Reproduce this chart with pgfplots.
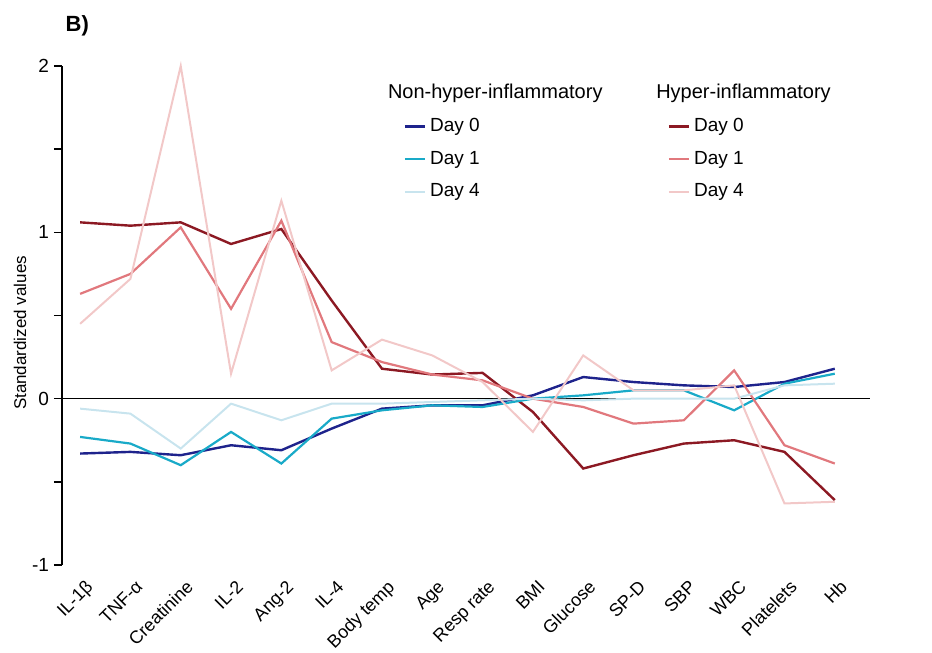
\documentclass[border=0pt]{standalone}
\usepackage{pgfplots}
\pgfplotsset{compat=1.18}
\usepackage{pgfplotstable}
\usepackage{fontspec}
\setmainfont{Liberation Sans}
\definecolor{nh0}{RGB}{30,35,140}
\definecolor{nh1}{RGB}{25,170,200}
\definecolor{nh4}{RGB}{200,228,238}
\definecolor{h0}{RGB}{140,25,35}
\definecolor{h1}{RGB}{225,120,125}
\definecolor{h4}{RGB}{242,200,200}
\pgfplotstableread{
idx NH0 NH1 NH4 H0 H1 H4
0 -0.33 -0.23 -0.06 1.06 0.63 0.45
1 -0.32 -0.27 -0.09 1.04 0.75 0.72
2 -0.34 -0.40 -0.30 1.06 1.03 2.00
3 -0.28 -0.20 -0.03 0.93 0.54 0.15
4 -0.31 -0.39 -0.13 1.02 1.07 1.19
5 -0.18 -0.12 -0.03 0.59 0.34 0.17
6 -0.06 -0.07 -0.03 0.18 0.22 0.355
7 -0.04 -0.04 -0.02 0.145 0.145 0.26
8 -0.04 -0.05 -0.01 0.155 0.11 0.10
9 0.02 0.00 0.00 -0.08 0.00 -0.20
10 0.13 0.02 -0.01 -0.42 -0.05 0.26
11 0.10 0.05 0.00 -0.34 -0.15 0.05
12 0.08 0.05 0.00 -0.27 -0.13 0.05
13 0.07 -0.07 0.00 -0.25 0.17 0.08
14 0.10 0.09 0.08 -0.32 -0.28 -0.63
15 0.18 0.15 0.09 -0.61 -0.39 -0.62
}\datatable
\begin{document}
\begin{tikzpicture}
\begin{axis}[
  name=ax,
  scale only axis,
  width=404pt, height=249.5pt,
  xmin=-0.36, xmax=15.7,
  ymin=-1, ymax=2,
  axis x line*=bottom,
  x axis line style={draw=none},
  axis y line*=left,
  y axis line style={line width=0.8pt},
  ytick={-1,0,1,2},
  minor ytick={-0.5,0.5,1.5},
  tick align=outside,
  major tick length=4pt, minor tick length=4pt,
  ytick style={line width=0.8pt, black},
  minor tick style={line width=0.8pt, black},
  xtick style={draw=none},
  yticklabel style={font=\fontsize{9.5}{11}\selectfont, xshift=1pt},
  /pgf/number format/assume math mode=true,
  ylabel={Standardized values},
  ylabel style={font=\fontsize{8.5}{10}\selectfont, at={(ticklabel cs:0.465)}, yshift=-4pt},
  xtick={0,...,15},
  xticklabels={IL-1β,TNF-α,Creatinine,IL-2,Ang-2,IL-4,Body temp,Age,Resp rate,BMI,Glucose,SP-D,SBP,WBC,Platelets,Hb},
  xticklabel style={font=\fontsize{9}{11}\selectfont, rotate=45, anchor=north east, inner sep=1pt, xshift=0.5pt, yshift=-2.5pt},
  clip=false,
  legend columns=2,
  legend style={draw=none, fill=none, at={(rel axis cs:0.415,0.912)}, anchor=north west,
    font=\fontsize{9.5}{11}\selectfont, row sep=4.3pt,
    /tikz/column 2/.style={column sep=92pt}},
  legend cell align=left,
  legend image code/.code={\draw[#1] (0pt,0pt) -- (10pt,0pt);},
]
\draw[black, line width=0.8pt] ({rel axis cs:0,0}|-{axis cs:0,0}) -- ({rel axis cs:1,0}|-{axis cs:0,0});
\addplot[nh0, line width=1.2pt] table[x=idx, y=NH0] {\datatable};
\addlegendentry{Day 0}
\addplot[h0, line width=1.2pt] table[x=idx, y=H0] {\datatable};
\addlegendentry{Day 0}
\addplot[nh1, line width=1.1pt] table[x=idx, y=NH1] {\datatable};
\addlegendentry{Day 1}
\addplot[h1, line width=1.1pt] table[x=idx, y=H1] {\datatable};
\addlegendentry{Day 1}
\addplot[nh4, line width=1.0pt] table[x=idx, y=NH4] {\datatable};
\addlegendentry{Day 4}
\addplot[h4, line width=1.0pt] table[x=idx, y=H4] {\datatable};
\addlegendentry{Day 4}
\node[anchor=west, font=\fontsize{10}{12}\selectfont, inner sep=0pt] at (rel axis cs:0.403,0.945) {Non-hyper-inflammatory};
\node[anchor=west, font=\fontsize{10}{12}\selectfont, inner sep=0pt] at (rel axis cs:0.735,0.945) {Hyper-inflammatory};
\node[anchor=west, font=\bfseries\fontsize{11}{13}\selectfont, inner sep=0pt] at (rel axis cs:0.004,1.08) {B)};
\end{axis}
\pgfresetboundingbox
\path ([xshift=-31pt,yshift=-44pt]ax.south west) rectangle ([xshift=31pt,yshift=33pt]ax.north east);
\end{tikzpicture}
\end{document}
